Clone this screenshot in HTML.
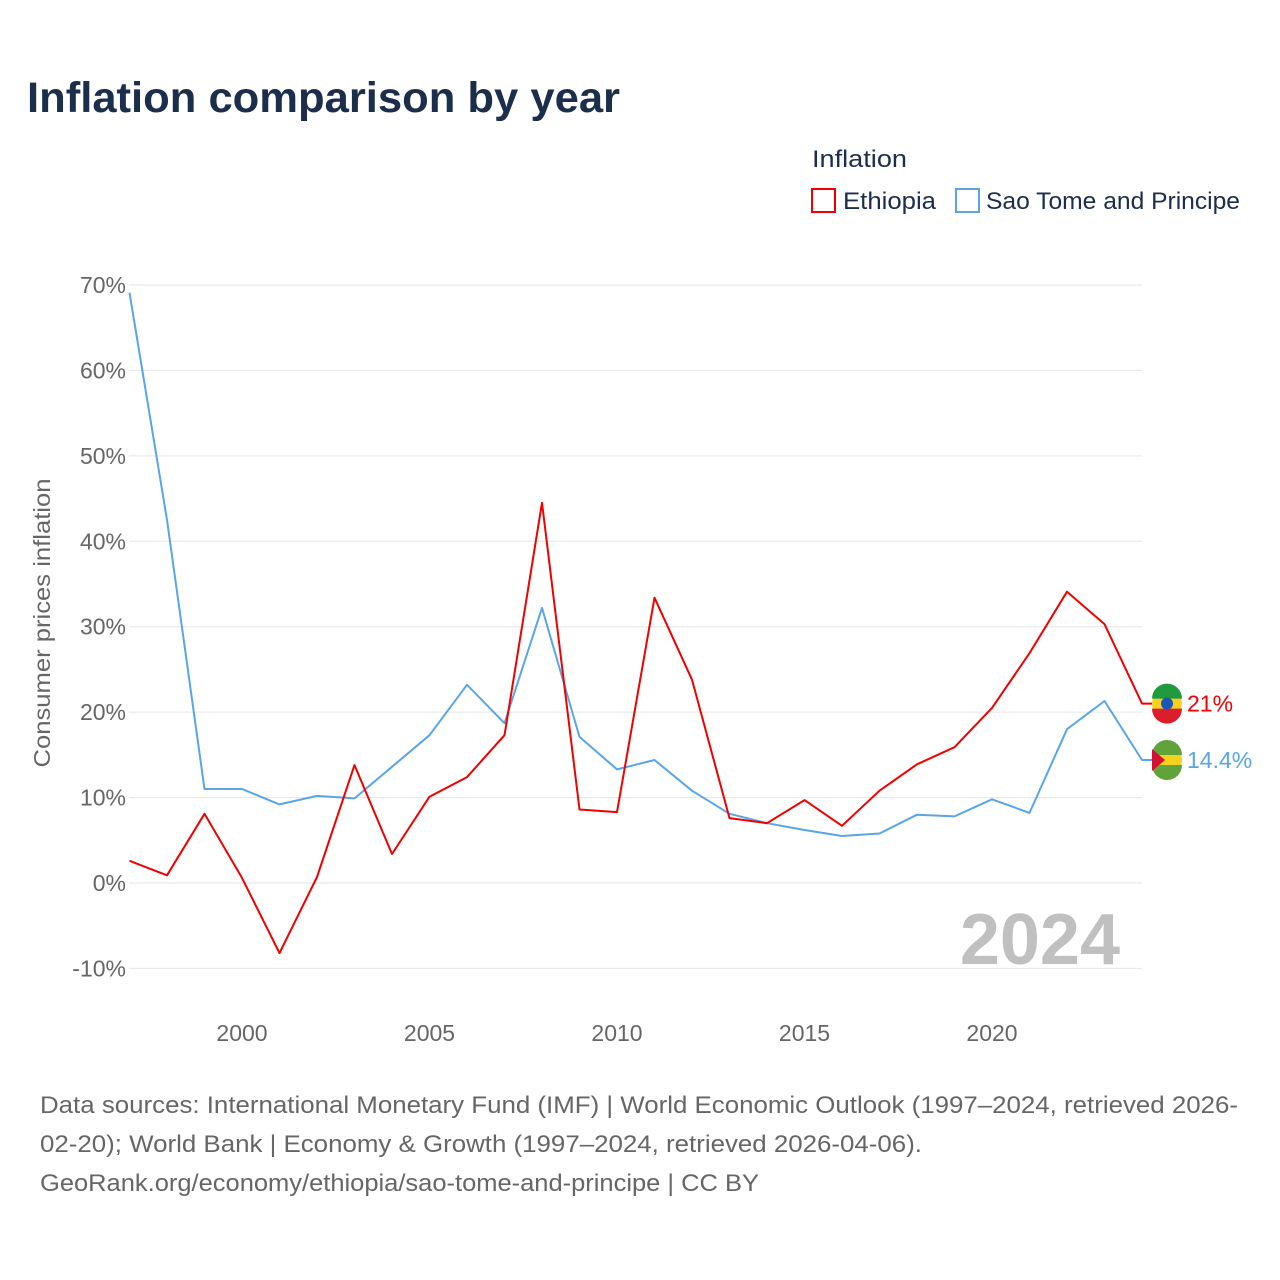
<!DOCTYPE html>
<html><head><meta charset="utf-8"><style>
body{margin:0;background:#fff;font-family:"Liberation Sans",sans-serif;}
#wrap{position:relative;width:1280px;height:1280px;overflow:hidden;}
</style></head><body>
<div id="wrap">
<svg id="chart" width="1280" height="1280" xmlns="http://www.w3.org/2000/svg">
<text x="27" y="112" font-size="43" font-weight="bold" fill="#1b2e4b" textLength="593" lengthAdjust="spacingAndGlyphs">Inflation comparison by year</text>
<text x="812" y="167" font-size="24" fill="#1b2e4b" textLength="95" lengthAdjust="spacingAndGlyphs">Inflation</text>
<g><rect x="812" y="189" width="23" height="23" fill="none" stroke="#f00000" stroke-width="2"/><text x="843" y="209" font-size="24" fill="#1b2e4b" textLength="93" lengthAdjust="spacingAndGlyphs">Ethiopia</text></g>
<g><rect x="956" y="189" width="23" height="23" fill="none" stroke="#5aa5e6" stroke-width="2"/><text x="986" y="209" font-size="24" fill="#1b2e4b" textLength="254" lengthAdjust="spacingAndGlyphs">Sao Tome and Principe</text></g>
<g id="grid"></g><g id="yticks"></g><g id="xticks"></g>
<text transform="translate(50,623) rotate(-90)" text-anchor="middle" font-size="23" fill="#666" textLength="289" lengthAdjust="spacingAndGlyphs">Consumer prices inflation</text>
<text x="1120" y="964" text-anchor="end" font-size="72" font-weight="bold" fill="#c0c0c0">2024</text>
<g id="series"></g>
<text x="40" y="1113" font-size="24" fill="#666" textLength="1198" lengthAdjust="spacingAndGlyphs">Data sources: International Monetary Fund (IMF) | World Economic Outlook (1997–2024, retrieved 2026-</text>
<text x="40" y="1152" font-size="24" fill="#666" textLength="882" lengthAdjust="spacingAndGlyphs">02-20); World Bank | Economy &amp; Growth (1997–2024, retrieved 2026-04-06).</text>
<text x="40" y="1191" font-size="24" fill="#666" textLength="719" lengthAdjust="spacingAndGlyphs">GeoRank.org/economy/ethiopia/sao-tome-and-principe | CC BY</text>
</svg>
</div>
<script>
const years=[1997,1998,1999,2000,2001,2002,2003,2004,2005,2006,2007,2008,2009,2010,2011,2012,2013,2014,2015,2016,2017,2018,2019,2020,2021,2022,2023,2024];
const ethiopia=[2.6,0.9,8.1,0.6,-8.2,0.7,13.8,3.4,10.1,12.4,17.3,44.5,8.6,8.3,33.4,23.8,7.6,7.0,9.7,6.7,10.8,13.9,15.9,20.5,26.9,34.1,30.3,21.0];
const saoTome=[69.1,42.5,11.0,11.0,9.2,10.2,9.9,13.6,17.3,23.2,18.7,32.2,17.1,13.3,14.4,10.8,8.1,7.0,6.2,5.5,5.8,8.0,7.8,9.8,8.2,18.0,21.3,14.4];
const yTicks=[-10,0,10,20,30,40,50,60,70];
const xTicks=[2000,2005,2010,2015,2020];
const NS="http://www.w3.org/2000/svg";
const X=y=>129.5+(y-1997)*(1142-129.5)/27;
const Y=v=>883-v*8.543;
function mk(tag,attrs,parent){const e=document.createElementNS(NS,tag);for(const k in attrs)e.setAttribute(k,attrs[k]);parent.appendChild(e);return e;}
const grid=document.getElementById('grid'),yt=document.getElementById('yticks'),xt=document.getElementById('xticks'),ser=document.getElementById('series');
yTicks.forEach(t=>{
 const l=mk('line',{x1:129,x2:1142,y1:Y(t),y2:Y(t),stroke:'#e6e6e6','stroke-width':1},grid);
 
 
 const tx=mk('text',{x:126,y:Y(t)+8,'text-anchor':'end','font-size':23,fill:'#666'},yt);
 tx.textContent=t+'%';
 
 
});
xTicks.forEach(t=>{
 const tx=mk('text',{x:X(t),y:1041,'text-anchor':'middle','font-size':23,fill:'#666'},xt);
 tx.textContent=t;
 
 
});
function drawSeries(vals,color,name,label,flag){
 const pts=vals.map((v,i)=>X(years[i]).toFixed(1)+','+Y(v).toFixed(1));
 const last=Y(vals[vals.length-1]);
 pts.push('1152,'+last.toFixed(1));
 const p=mk('polyline',{points:pts.join(' '),fill:'none',stroke:color,'stroke-width':2,'stroke-linejoin':'round'},ser);
 
 
 const g=mk('g',{},ser);
 
 
 const cx=1167;
 if(flag==='et'){
  mk('circle',{cx:cx,cy:last,r:15,fill:'#f4d21f'},g);
  mk('path',{d:`M${cx-15},${last-5} A15,15 0 0 1 ${cx+15},${last-5} Z`,fill:'#1f9a3c'},g);
  mk('path',{d:`M${cx-15},${last+5} A15,15 0 0 0 ${cx+15},${last+5} Z`,fill:'#dc1d2b'},g);
  mk('circle',{cx:cx,cy:last,r:6,fill:'#1a56b8'},g);
 }else{
  mk('circle',{cx:cx,cy:last,r:15,fill:'#f4d21f'},g);
  mk('path',{d:`M${cx-15},${last-5} A15,15 0 0 1 ${cx+15},${last-5} Z`,fill:'#5fa33a'},g);
  mk('path',{d:`M${cx-15},${last+5} A15,15 0 0 0 ${cx+15},${last+5} Z`,fill:'#5fa33a'},g);
  mk('path',{d:`M${cx-15},${last-11} L${cx-2},${last} L${cx-15},${last+11} Z`,fill:'#d21034'},g);
 }
 const t=mk('text',{x:1187,y:last+8,'font-size':23,fill:color},ser);
 t.textContent=label;
 
 
}
drawSeries(saoTome,'#5aa5e6','sao-tome','14.4%','st');
drawSeries(ethiopia,'#f00000','ethiopia','21%','et');
</script>
</body></html>
